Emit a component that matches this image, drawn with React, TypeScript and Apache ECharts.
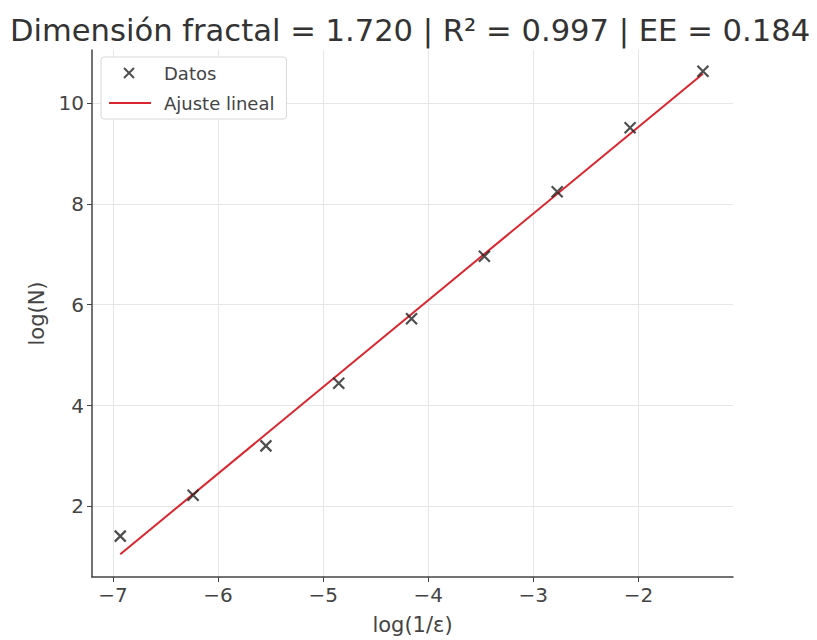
import React, { useEffect, useRef } from "react";
import * as echarts from "echarts";

const titleText = "Dimensión fractal = 1.720 | R² = 0.997 | EE = 0.184";
const logInvEps = [-6.931, -6.238, -5.545, -4.852, -4.159, -3.466, -2.773, -2.079, -1.386];
const logN = [1.41, 2.22, 3.2, 4.44, 5.72, 6.96, 8.24, 9.51, 10.63];
const fitX = [-6.931, -1.386];
const fitY = [1.05, 10.58];
const xTicks = [-7, -6, -5, -4, -3, -2];
const yTicks = [2, 4, 6, 8, 10];

const CROSS = "path://M0,0L10,10M10,0L0,10";
const LEGEND_CROSS = "path://M0,0L0,0M15,1L25,11M25,1L15,11M50,12L50,12";
const LEGEND_LINE = "path://M0,0L0,0M0,5L42,5L42,7L0,7ZM50,12L50,12";

export default function App() {
  const ref = useRef<HTMLDivElement>(null);
  useEffect(() => {
    if (!ref.current) return;
    const chart = echarts.init(ref.current, null, { renderer: "svg" });
    const font = "DejaVu Sans";
    chart.setOption({
      animation: false,
      backgroundColor: "#fff",
      title: {
        text: titleText,
        left: 405,
        textAlign: "center",
        top: 10,
        textStyle: { fontFamily: font, fontSize: 30.6, fontWeight: "normal", color: "#333" },
      },
      legend: {
        orient: "vertical",
        left: 101,
        top: 57,
        padding: [6, 12, 6, 7],
        itemGap: 10,
        itemWidth: 50,
        itemHeight: 12,
        borderColor: "#d8d8d8",
        borderWidth: 1,
        borderRadius: 3,
        backgroundColor: "#fff",
        textStyle: { fontFamily: font, fontSize: 18, color: "#444", lineHeight: 20 },
        data: [
          { name: "Datos", icon: LEGEND_CROSS, itemStyle: { color: "transparent", borderColor: "#222", borderWidth: 2 } },
          { name: "Ajuste lineal", icon: LEGEND_LINE, itemStyle: { color: "#d9262e", borderWidth: 0 } },
        ],
      },
      grid: { left: 92, right: 84, top: 50, bottom: 63, containLabel: false },
      xAxis: {
        type: "value",
        min: -7.2,
        max: -1.1,
        name: "log(1/ε)",
        nameLocation: "middle",
        nameGap: 37,
        nameTextStyle: { fontFamily: font, fontSize: 21, color: "#444" },
        axisLine: { show: true, onZero: false, lineStyle: { color: "#444", width: 1.5 } },
        axisTick: { show: true, customValues: xTicks, length: 5, lineStyle: { color: "#444" } },
        axisLabel: { customValues: xTicks, fontFamily: font, fontSize: 20, color: "#444", margin: 8,
          formatter: (v: number) => (v < 0 ? "\u2212" + Math.abs(v) : String(v)) },
        splitLine: { show: true, lineStyle: { color: "#e6e6e6", width: 1 } },
      },
      yAxis: {
        type: "value",
        min: 0.6,
        max: 11.05,
        name: "log(N)",
        nameLocation: "middle",
        nameGap: 43,
        nameTextStyle: { fontFamily: font, fontSize: 21, color: "#444" },
        axisLine: { show: true, onZero: false, lineStyle: { color: "#444", width: 1.5 } },
        axisTick: { show: true, customValues: yTicks, length: 5, lineStyle: { color: "#444" } },
        axisLabel: { customValues: yTicks, fontFamily: font, fontSize: 20, color: "#444", margin: 8 },
        splitLine: { show: true, lineStyle: { color: "#e6e6e6", width: 1 } },
      },
      series: [
        {
          name: "Ajuste lineal",
          type: "line",
          symbol: "none",
          data: fitX.map((x, i) => [x, fitY[i]]),
          lineStyle: { color: "#d9262e", width: 2 },
          itemStyle: { color: "#d9262e" },
          z: 2,
        },
        {
          name: "Datos",
          type: "scatter",
          symbol: CROSS,
          symbolSize: 11,
          data: logInvEps.map((x, i) => [x, logN[i]]),
          itemStyle: { color: "transparent", borderColor: "#222", borderWidth: 2.2 },
          z: 3,
        },
      ],
    });
    return () => chart.dispose();
  }, []);
  return <div ref={ref} style={{ width: 817, height: 640, position: "absolute", left: 0, top: 0 }} />;
}
